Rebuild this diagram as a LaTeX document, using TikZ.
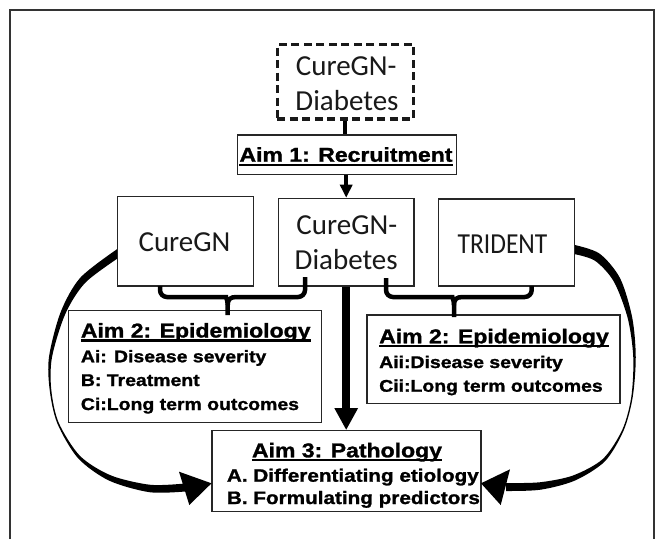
\documentclass[tikz,border=0pt]{standalone}
\usepackage{fontspec}
\setmainfont{Carlito}
\newfontfamily\aimfont[FakeStretch=1.15,FakeBold=1.3]{Liberation Sans}
\newfontfamily\narrowfont[FakeStretch=0.88]{Carlito}
\usetikzlibrary{arrows.meta,calc}
\tikzset{
  box/.style={draw=black!85, line width=1.3pt, fill=white, inner sep=0pt, rectangle},
  dbox/.style={draw=black!90, line width=3.3pt, dash pattern=on 8pt off 4.5pt, fill=white, inner sep=0pt, rectangle},
  reg/.style={inner sep=0pt, anchor=base, font=\fontsize{29}{35}\selectfont, text=black!90},
  ttl/.style={inner sep=0pt, font=\aimfont\bfseries\fontsize{20}{24}\selectfont},
  itm/.style={inner sep=0pt, anchor=base west, font=\aimfont\bfseries\fontsize{16.9}{20}\selectfont},
  itmb/.style={inner sep=0pt, anchor=base west, font=\aimfont\bfseries\fontsize{18}{21}\selectfont},
  brc/.style={line width=4.5pt, draw=black},
  arcfill/.style={fill=black},
  frame/.style={draw=black!80, line width=1.5pt},
  uline/.style={line width=2.3pt},
}
\begin{document}
\begin{tikzpicture}[x=1pt,y=-1pt]
\useasboundingbox (0,0) rectangle (661,539);
\draw[frame] (10,539) -- (10,10) -- (654,10) -- (654,539);

% curved arrows (tapered bodies)
\fill[arcfill] plot[smooth] coordinates {(117.6,248.8) (80.4,277.6) (60.7,312.0) (49.0,356.8) (49.7,390.1) (57.3,423.3) (77.9,458.0) (108.9,480.5) (149.5,492.2) (185.1,491.5)}
  -- plot[smooth] coordinates {(184.9,483.5) (150.5,484.8) (111.1,475.5) (80.1,456.0) (58.7,422.7) (51.3,389.9) (52.0,357.2) (65.3,314.0) (85.6,282.4) (122.4,255.2)} -- cycle;
\fill[arcfill] plot[smooth] coordinates {(573.4,244.7) (599.4,253.5) (620.1,278.3) (632.2,317.5) (635.75,357) (632.7,397.1) (623.7,430.3) (605.1,461.1) (575.0,480.5) (540.5,489.7) (506.1,491)}
  -- plot[smooth] coordinates {(505.9,483) (539.5,482.3) (573.0,475.5) (602.9,458.9) (622.3,429.7) (631.3,396.9) (633.25,357) (627.8,318.5) (613.9,281.7) (594.6,260.5) (570.6,253.3)} -- cycle;

% boxes
\node[dbox, minimum width=136pt, minimum height=74.7pt] (cgd0) at (345.3,81.7) {};
\node[box, minimum width=219pt, minimum height=39.3pt] (aim1) at (347.2,154.7) {};
\node[box, minimum width=136pt, minimum height=89.3pt] (curegn) at (185.3,241.3) {};
\node[box, minimum width=135.7pt, minimum height=87.7pt] (cgd) at (346.2,242.2) {};
\node[box, minimum width=136pt, minimum height=87pt] (trident) at (506.3,242.5) {};
\node[box, minimum width=253.2pt, minimum height=111.8pt] (epiL) at (194.9,366.6) {};
\node[box, minimum width=253pt, minimum height=88.3pt] (epiR) at (493.5,359.2) {};
\node[box, minimum width=269pt, minimum height=81pt] (aim3) at (346.5,471.3) {};

% arrowheads of curved arrows
\coordinate (ltip) at (211.5,483.3);
\coordinate (rtip) at (481,483.3);
\fill[arcfill] (179,471.7) -- (ltip) -- (189.3,505) -- cycle;
\fill[arcfill] (510,469.3) -- (rtip) -- (500.7,505) -- cycle;

% texts
\node[reg] (t0a) at (346.2,75) {CureGN-};
\node[reg] (t0b) at (347,110) {Diabetes};
\node[ttl, anchor=base] (t1) at (346,161.7) {Aim 1: Recruitment};
\node[reg] (t2) at (184.5,251.7) {CureGN};
\node[reg] (t3a) at (346.8,234.3) {CureGN-};
\node[reg] (t3b) at (346.2,269.3) {Diabetes};
\node[reg, font=\narrowfont\fontsize{29}{35}\selectfont] (t4) at (502.5,253.3) {TRIDENT};
\node[ttl, anchor=base west] (t5) at (80.7,337.5) {Aim 2: Epidemiology};
\node[itm] (t5a) at (80.7,362.3) {Ai: Disease severity};
\node[itm] (t5b) at (80.7,386) {B: Treatment};
\node[itm] (t5c) at (80.7,410) {Ci:Long term outcomes};
\node[ttl, anchor=base west] (t6) at (379,343.3) {Aim 2: Epidemiology};
\node[itm] (t6a) at (379,368) {Aii:Disease severity};
\node[itm] (t6b) at (379,391.7) {Cii:Long term outcomes};
\node[ttl, anchor=base] (t7) at (347,457.3) {Aim 3: Pathology};
\node[itmb] (t7a) at (226.7,481.7) {A. Differentiating etiology};
\node[itmb] (t7b) at (226.7,504) {B. Formulating predictors};
\foreach \t in {t1,t5,t6,t7}
  \draw[uline] ($(\t.base west)+(0,3)$) -- ($(\t.base east)+(0,3)$);

% straight connectors
\draw[line width=3.7pt] (cgd0.south) -- (cgd0.south |- aim1.north);
\draw[line width=3.7pt, -{Triangle[length=13pt,width=12pt]}] (aim1.south -| cgd.north) -- (cgd.north);
\draw[line width=8pt, -{Triangle[length=22pt,width=22pt]}] (cgd.south) -- (aim3.north -| cgd.south);

% braces
\coordinate (lb1) at (160,286);
\coordinate (lb2) at (305,277);
\coordinate (lcusp) at (227.7,305);
\coordinate (lstem) at (227.7,315);
\draw[brc, rounded corners=7pt] (lb1) -- (160,297) -- (219,297) [sharp corners] .. controls (225.5,297) and (227.7,299.5) .. (lcusp) -- (lstem);
\draw[brc] (lcusp) .. controls (227.7,299.5) and (229.9,297) .. (236.4,297) [rounded corners=7pt] -- (305,297) -- (lb2);
\coordinate (rb1) at (386,278);
\coordinate (rb2) at (531.7,286);
\coordinate (rcusp) at (454,305);
\coordinate (rstem) at (454,317);
\draw[brc, rounded corners=7pt] (rb1) -- (386,297) -- (445.3,297) [sharp corners] .. controls (451.8,297) and (454,299.5) .. (rcusp) -- (rstem);
\draw[brc] (rcusp) .. controls (454,299.5) and (456.2,297) .. (462.7,297) [rounded corners=7pt] -- (531.7,297) -- (rb2);
\end{tikzpicture}
\end{document}
